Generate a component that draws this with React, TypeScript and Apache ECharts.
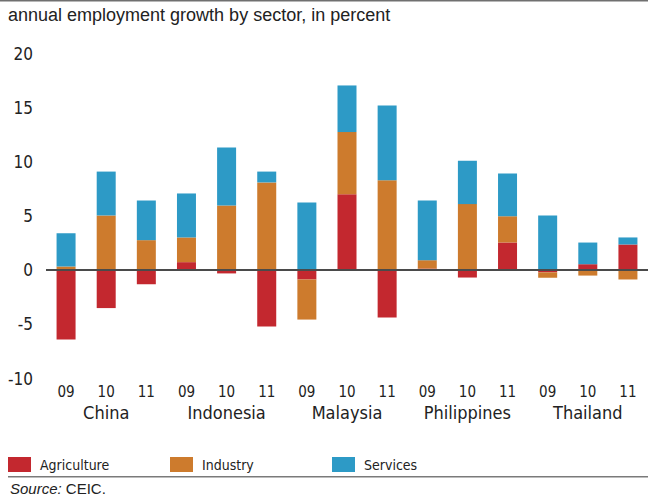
import React, { useEffect, useRef } from "react";
import * as echarts from "echarts";

const countries = ["China", "Indonesia", "Malaysia", "Philippines", "Thailand"];
const years = ["09", "10", "11"];
const categories = countries.flatMap((c) => years.map((y) => c + " " + y));

const agriculture = [-6.4, -3.5, -1.3, 0.74, -0.3, -5.2, -0.86, 7.0, -4.37, 0.15, -0.68, 2.55, -0.2, 0.55, 2.37];
const industry = [0.35, 5.05, 2.77, 2.28, 5.97, 8.1, -3.7, 5.75, 8.3, 0.77, 6.1, 2.43, -0.5, -0.5, -0.86];
const services = [3.05, 4.05, 3.66, 4.06, 5.35, 1.0, 6.25, 4.3, 6.9, 5.5, 4.0, 3.94, 5.05, 2.0, 0.65];

const seriesNames = ["Agriculture", "Industry", "Services"];
const colors = ["#c3282f", "#cd7b2d", "#2d9ac6"];

const yMin = -10;
const yMax = 20;
const yInterval = 5;

const titleText = "annual employment growth by sector, in percent";
const sourceText = "CEIC.";

const narrow = "'DejaVu Sans Condensed', 'Roboto', sans-serif";
const regular = "'Liberation Sans', 'Roboto', sans-serif";

export default function App() {
  const ref = useRef<HTMLDivElement>(null);
  useEffect(() => {
    document.body.style.margin = "0";
    if (!ref.current) return;
    const chart = echarts.init(ref.current, null, { renderer: "svg" });
    const values = [agriculture, industry, services];
    const legendLeft = [8, 170, 332];
    chart.setOption({
      animation: false,
      title: [
        {
          text: titleText,
          left: 8,
          top: 6,
          padding: 0,
          textStyle: { fontSize: 18, fontWeight: "normal", color: "#222", fontFamily: regular },
        },
        {
          text: "{i|Source:} " + sourceText,
          left: 10,
          top: 481,
          padding: 0,
          textStyle: {
            fontSize: 15,
            fontWeight: "normal",
            color: "#222",
            fontFamily: regular,
            rich: { i: { fontStyle: "italic", fontSize: 15, color: "#222", fontFamily: regular } },
          },
        },
      ],
      graphic: [
        { type: "rect", shape: { x: 0, y: 0, width: 648, height: 1.5 }, style: { fill: "#707070" } },
        { type: "rect", shape: { x: 8, y: 476, width: 640, height: 1.5 }, style: { fill: "#7a7a7a" } },
      ],
      legend: seriesNames.map((n, i) => ({
        data: [n],
        left: legendLeft[i],
        top: 457,
        padding: 0,
        itemWidth: 23,
        itemHeight: 15,
        icon: "rect",
        selectedMode: false,
        textStyle: { fontSize: 14, color: "#222", fontFamily: narrow, padding: [0, 0, 0, 4] },
      })),
      grid: { left: 46, right: -7, top: 53.5, height: 325, containLabel: false },
      xAxis: [
        {
          type: "category",
          data: categories,
          axisLine: { show: false, onZero: false },
          axisTick: { show: false },
          axisLabel: {
            fontSize: 15,
            lineHeight: 15,
            color: "#222",
            fontFamily: narrow,
            margin: 6,
            interval: 0,
            formatter: (v: string) => v.split(" ")[1],
          },
          splitLine: { show: false },
        },
        {
          type: "category",
          data: countries,
          position: "bottom",
          offset: 20,
          axisLine: { show: false, onZero: false },
          axisTick: { show: false },
          axisLabel: { fontSize: 18, lineHeight: 18, color: "#222", fontFamily: narrow, margin: 5, interval: 0 },
          splitLine: { show: false },
        },
      ],
      yAxis: {
        type: "value",
        min: yMin,
        max: yMax,
        interval: yInterval,
        axisLine: { show: false },
        axisTick: { show: false },
        splitLine: { show: false },
        axisLabel: { fontSize: 17, color: "#222", fontFamily: narrow, margin: 13 },
      },
      series: seriesNames.map((n, i) => ({
        name: n,
        type: "bar",
        stack: "total",
        barWidth: 19,
        data: values[i],
        itemStyle: { color: colors[i] },
        ...(i === 0
          ? {
              markLine: {
                silent: true,
                symbol: ["none", "none"],
                label: { show: false },
                lineStyle: { color: "#4a4a4a", width: 2, type: "solid" },
                data: [{ yAxis: 0 }],
                z: 10,
              },
            }
          : {}),
      })),
    });
    return () => chart.dispose();
  }, []);
  return <div ref={ref} style={{ width: 648, height: 500 }} />;
}
